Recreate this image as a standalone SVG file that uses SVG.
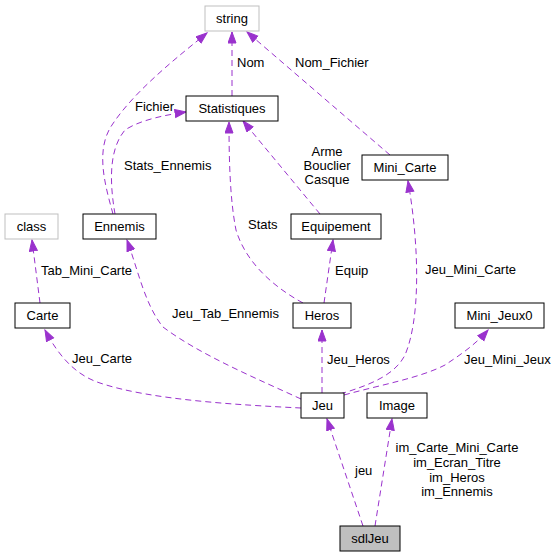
<svg xmlns="http://www.w3.org/2000/svg" width="557" height="557" viewBox="0 0 557 557">
<style>
.n rect{fill:#fff;stroke:#000;stroke-width:1}
.n.g rect{stroke:#bfbfbf}
.n.s rect{fill:#bfbfbf}
text{font-family:"Liberation Sans",Arial,sans-serif;font-size:13px;fill:#000}
.n text{text-anchor:middle}
.e path{fill:none;stroke:#9a32cd;stroke-width:1;stroke-dasharray:6,4;marker-end:url(#ah)}
</style>
<defs>
<marker id="ah" markerUnits="userSpaceOnUse" markerWidth="13" markerHeight="10" refX="11.5" refY="4.5" orient="auto">
<path d="M0.5,0.5 L11.5,4.5 L0.5,8.5 z" fill="#9a32cd" stroke="#9a32cd" stroke-width="1"/>
</marker>
</defs>
<rect width="557" height="557" fill="#fff"/>
<g id="edges" class="e">
<path d="M232,96 L232,32"/>
<path d="M113,214 C105,185 95,150 112,125 C135,90 180,55 207,33"/>
<path d="M115,214 C110,185 108,150 125,130 C140,120 165,115 186,112"/>
<path d="M390,155 L247,32"/>
<path d="M320,214 L243,121"/>
<path d="M303,303 C270,285 245,260 236,230 C230,200 229,160 229,122"/>
<path d="M324,303 L333,240"/>
<path d="M40,303 L32,240"/>
<path d="M301,399 C260,380 200,355 163,327 C145,305 138,270 127,240"/>
<path d="M301,408 C240,405 150,400 100,383 C75,375 58,355 45,330"/>
<path d="M322,393 L322,330"/>
<path d="M340,394 C370,385 395,375 405,355 C420,320 420,250 408,181"/>
<path d="M344,395 C380,385 420,378 445,365 C460,355 475,345 488,330"/>
<path d="M363,526 L327,419"/>
<path d="M375,526 L392,419"/>
</g>
<g id="edge-labels">
<text x="237" y="67">Nom</text>
<text x="135" y="111">Fichier</text>
<text x="124" y="170">Stats_Ennemis</text>
<text x="295" y="67">Nom_Fichier</text>
<text x="327" y="156" text-anchor="middle">Arme</text>
<text x="327" y="170" text-anchor="middle">Bouclier</text>
<text x="327" y="184" text-anchor="middle">Casque</text>
<text x="248" y="229">Stats</text>
<text x="335" y="275">Equip</text>
<text x="41" y="275">Tab_Mini_Carte</text>
<text x="172" y="318">Jeu_Tab_Ennemis</text>
<text x="72" y="363">Jeu_Carte</text>
<text x="327" y="364">Jeu_Heros</text>
<text x="425" y="274">Jeu_Mini_Carte</text>
<text x="464" y="364">Jeu_Mini_Jeux</text>
<text x="355" y="475">jeu</text>
<text x="457" y="452" text-anchor="middle">im_Carte_Mini_Carte</text>
<text x="457" y="467" text-anchor="middle">im_Ecran_Titre</text>
<text x="457" y="482" text-anchor="middle">im_Heros</text>
<text x="457" y="496" text-anchor="middle">im_Ennemis</text>
</g>
<g id="string" class="n g"><rect x="205" y="6" width="54" height="25"/><text x="232" y="23">string</text></g>
<g id="Statistiques" class="n"><rect x="186" y="96" width="92" height="25"/><text x="232" y="113">Statistiques</text></g>
<g id="class" class="n g"><rect x="5" y="214" width="53" height="25"/><text x="31.5" y="231">class</text></g>
<g id="Ennemis" class="n"><rect x="83" y="214" width="73" height="25"/><text x="119.5" y="231">Ennemis</text></g>
<g id="Mini_Carte" class="n"><rect x="362" y="155" width="86" height="25"/><text x="405" y="172">Mini_Carte</text></g>
<g id="Equipement" class="n"><rect x="291" y="214" width="90" height="25"/><text x="336" y="231">Equipement</text></g>
<g id="Carte" class="n"><rect x="15" y="303" width="55" height="25"/><text x="42.5" y="320">Carte</text></g>
<g id="Heros" class="n"><rect x="293" y="303" width="58" height="25"/><text x="322" y="320">Heros</text></g>
<g id="Mini_Jeux0" class="n"><rect x="455" y="303" width="89" height="25"/><text x="499.5" y="320">Mini_Jeux0</text></g>
<g id="Jeu" class="n"><rect x="301" y="393" width="43" height="25"/><text x="322.5" y="410">Jeu</text></g>
<g id="Image" class="n"><rect x="367" y="393" width="60" height="25"/><text x="397" y="410">Image</text></g>
<g id="sdlJeu" class="n s"><rect x="340" y="526" width="60" height="25"/><text x="370" y="543">sdlJeu</text></g>
</svg>
